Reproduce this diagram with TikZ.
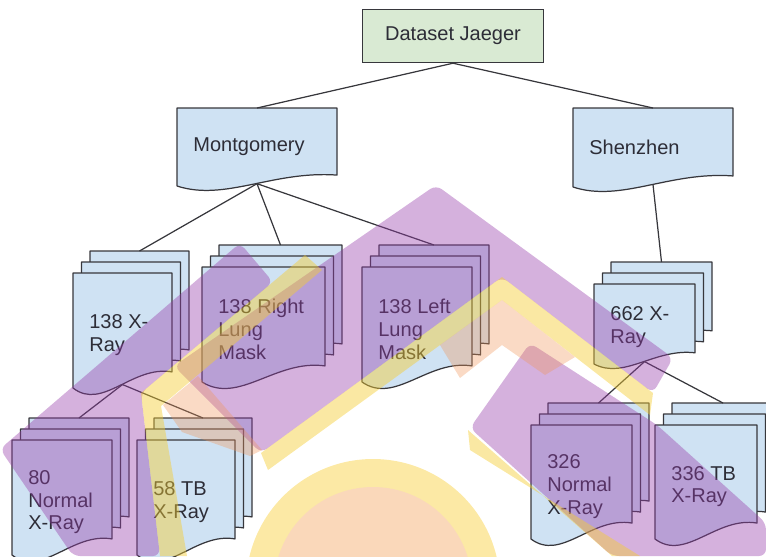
\documentclass[tikz,border=0pt]{standalone}
\usepackage{fontspec}
\setmainfont{Liberation Sans}
\definecolor{pageblue}{RGB}{207,226,243}
\definecolor{rootgreen}{RGB}{217,234,211}
\definecolor{edgegray}{RGB}{55,55,60}
\definecolor{inkgray}{RGB}{45,45,55}
\definecolor{wmviolet}{RGB}{150,60,170}
\definecolor{wmyellow}{RGB}{245,205,50}
\definecolor{wmpeach}{RGB}{240,150,90}
\definecolor{sunyellow}{RGB}{252,233,165}
\definecolor{sunpeach}{RGB}{250,216,186}
\tikzset{
        sheet/.style={fill=pageblue, draw=edgegray, line width=0.7pt, line join=round},
        pagetext/.style={anchor=west, align=left, inner sep=0pt, text=inkgray, font=\fontsize{11.4}{13}\selectfont},
        rootbox/.style={rectangle, draw=edgegray, fill=rootgreen, line width=0.8pt, minimum width=3.62cm, minimum height=1.06cm, text=inkgray, font=\fontsize{11.4}{13}\selectfont},
        link/.style={draw=edgegray, line width=0.7pt},
        purpleband/.style={fill=wmviolet, fill opacity=0.4, rounded corners=4pt},
        yellowband/.style={fill=wmyellow, fill opacity=0.45},
        peachband/.style={fill=wmpeach, fill opacity=0.35}
          }
\newcommand{\docsheet}[4]{%
  \filldraw[sheet] ({#1},{#2}) -- ({#1+#3},{#2}) -- ({#1+#3},{#2+0.86*#4})
    .. controls ({#1+0.6*#3},{#2+0.8*#4}) and ({#1+0.3*#3},{#2+1.2*#4}) .. ({#1},{#2+#4}) -- cycle;}
\newcommand{\docsingle}[6]{%
  \docsheet{#2}{#3}{#4}{#5}
  \node[pagetext] (#1) at ({#2+16},{#3+0.5*#5}) {#6};
  \coordinate (#1-top) at ({#2+0.5*#4},{#3});
  \coordinate (#1-bot) at ({#2+0.5*#4},{#3+0.97*#5});}
\newcommand{\docstack}[6]{%
  \docsheet{#2+17}{#3-22}{#4}{#5}
  \docsheet{#2+8.5}{#3-11}{#4}{#5}
  \docsheet{#2}{#3}{#4}{#5}
  \node[pagetext] (#1) at ({#2+16},{#3+0.54*#5}) {#6};
  \coordinate (#1-top) at ({#2+17+0.5*#4},{#3-22});
  \coordinate (#1-bot) at ({#2+0.5*#4},{#3+0.97*#5});}

\begin{document}
\begin{tikzpicture}[x=0.02cm, y=-0.02cm]
            \useasboundingbox (0,0) rectangle (766,556);
            \node[rootbox] (root) at (453,36) {Dataset Jaeger};
            \docsingle{mont}{177}{108}{160}{78}{Montgomery}
            \docsingle{shen}{573}{108}{160}{79}{Shenzhen}
            \docstack{xray138}{73}{273}{99}{115}{138 X-\\Ray}
            \docstack{rmask}{202}{267}{123}{115}{138 Right\\Lung\\Mask}
            \docstack{lmask}{362}{267}{110}{115}{138 Left\\Lung\\Mask}
            \docstack{xray662}{594}{284}{101}{80}{662 X-\\Ray}
            \docstack{normal80}{12}{440}{100}{115}{80\\Normal\\X-Ray}
            \docstack{tb58}{137}{440}{98}{115}{58 TB\\X-Ray}
            \docstack{normal326}{531}{425}{101}{114}{326\\Normal\\X-Ray}
            \docstack{tb336}{655}{425}{102}{114}{336 TB\\X-Ray}

            \draw[link] (root.south) -- (mont-top);
            \draw[link] (root.south) -- (shen-top);
            \draw[link] (mont-bot) -- (xray138-top);
            \draw[link] (mont-bot) -- (rmask-top);
            \draw[link] (mont-bot) -- (lmask-top);
            \draw[link] (shen-bot) -- (xray662-top);
            \draw[link] (xray138-bot) -- (normal80-top);
            \draw[link] (xray138-bot) -- (tb58-top);
            \draw[link] (xray662-bot) -- (normal326-top);
            \draw[link] (xray662-bot) -- (tb336-top);

            \fill[purpleband] (0,449) -- (240,243) -- (273,282) -- (141,393) -- (160,556) -- (73,556) -- cycle;
            \fill[purpleband] (174,366) -- (436,185) -- (673,358) -- (653,393) -- (502,277) -- (261,453) -- cycle;
            \fill[purpleband] (470,428) -- (530,343) -- (657,425) -- (766,523) -- (766,556) -- (612,556) -- cycle;
            \fill[yellowband] (141,393) -- (305,255) -- (322,270) -- (161,406) -- (187,556) -- (160,556) -- cycle;
            \fill[yellowband] (261,453) -- (502,277) -- (653,393) -- (650,415) -- (502,300) -- (268,470) -- cycle;
            \fill[yellowband] (468,430) -- (612,556) -- (640,556) -- (470,450) -- cycle;
            \fill[peachband] (440,345) -- (502,300) -- (575,357) -- (545,375) -- (502,345) -- (460,378) -- cycle;
            \fill[peachband] (163,405) -- (198,376) -- (262,450) -- (250,456) -- (182,432) -- cycle;
            \fill[sunyellow] (373,586) circle (127);
            \fill[sunpeach] (373,586) circle (99);
\end{tikzpicture}
\end{document}
